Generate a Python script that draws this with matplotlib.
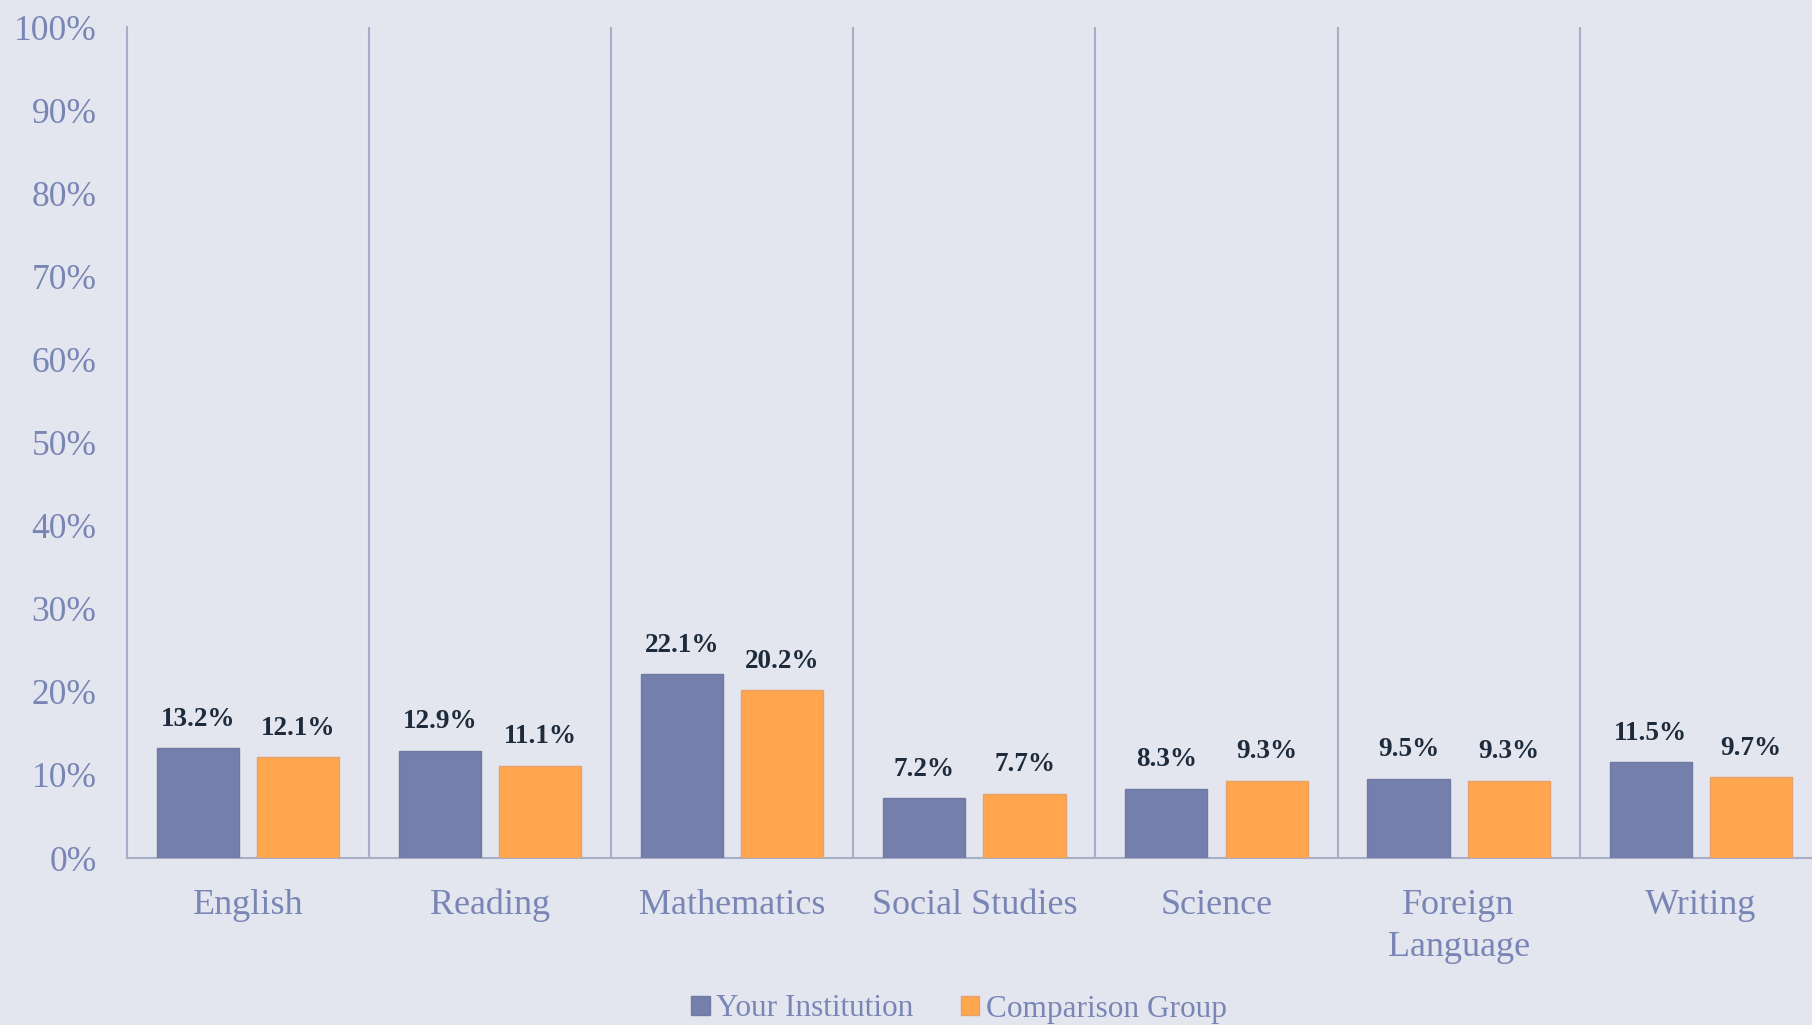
import matplotlib
matplotlib.use("Agg")
import matplotlib.pyplot as plt
import numpy as np
from matplotlib.ticker import FuncFormatter

categories = ["English", "Reading", "Mathematics", "Social Studies", "Science", "Foreign\nLanguage", "Writing"]
your_institution = [13.2, 12.9, 22.1, 7.2, 8.3, 9.5, 11.5]
comparison_group = [12.1, 11.1, 20.2, 7.7, 9.3, 9.3, 9.7]
y_ticks = [0, 10, 20, 30, 40, 50, 60, 70, 80, 90, 100]

bg = "#E3E6EE"
blue = "#7480AB"
orange = "#FFA64F"
text_col = "#7985B5"
label_col = "#1E2B3C"
line_col = "#A8AEC8"

plt.rcParams["font.family"] = ["Liberation Serif", "DejaVu Serif"]

fig = plt.figure(figsize=(18.12, 10.25), dpi=100, facecolor=bg)
ax = fig.add_axes([0.0701, 0.1629, 0.9353, 0.8107])
ax.set_facecolor(bg)

x = np.arange(len(categories))
w = 0.339
off = 0.207
b1 = ax.bar(x - off, your_institution, w, color=blue, edgecolor="#6E7AA3", linewidth=1, label="Your Institution", zorder=3)
b2 = ax.bar(x + off, comparison_group, w, color=orange, edgecolor="#E8A06A", linewidth=1, label="Comparison Group", zorder=3)

for bars, vals in ((b1, your_institution), (b2, comparison_group)):
    for r, v in zip(bars, vals):
        ax.annotate(f"{v:.1f}%", (r.get_x() + r.get_width() / 2, v), xytext=(0, 12),
                    textcoords="offset points", ha="center", va="bottom",
                    fontsize=19.5, fontweight="bold", color=label_col)

ax.set_xlim(-0.5, len(categories) - 0.5)
ax.set_ylim(0, 100)
ax.set_yticks(y_ticks)
ax.yaxis.set_major_formatter(FuncFormatter(lambda v, p: f"{v:.0f}%"))
ax.set_xticks(x)
ax.set_xticklabels(categories, linespacing=1.36)
ax.tick_params(axis="y", length=0, colors=text_col, labelsize=25.5, pad=22)
ax.tick_params(axis="x", length=0, colors=text_col, labelsize=26, pad=22)

for b in np.arange(0.5, len(categories) - 0.5, 1.0):
    ax.axvline(b, color=line_col, linewidth=1.5, zorder=1)

for s in ["top", "right"]:
    ax.spines[s].set_visible(False)
ax.spines["left"].set_color(line_col)
ax.spines["left"].set_linewidth(1.5)
ax.spines["bottom"].set_color(line_col)
ax.spines["bottom"].set_linewidth(1.5)

leg = fig.legend(handles=[b1, b2], loc="center", bbox_to_anchor=(959 / 1812, 1 - 1009 / 1025),
                 ncol=2, frameon=False, fontsize=22.5, labelcolor=text_col,
                 handlelength=0.6, handleheight=0.6, handletextpad=0.2, columnspacing=1.5)

fig.savefig("out.png", dpi=100, facecolor=bg)
